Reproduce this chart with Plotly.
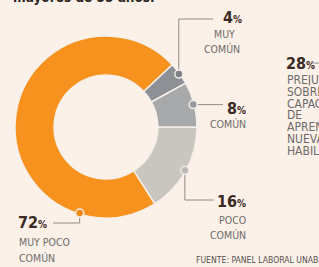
import math
import plotly.graph_objects as go

# Data (clockwise from 3 o'clock)
categories = ["POCO COMÚN", "MUY POCO COMÚN", "MUY COMÚN", "COMÚN"]
values = [16, 72, 4, 8]
colors = ["#C9C5BF", "#F7921E", "#8D9094", "#A8A9AB"]
marker_colors = ["#BDB9B4", "#F08A17", "#7E8287", "#979A9E"]
pct_labels = ["16", "72", "4", "8"]
side_value = "28"
side_lines = ["PREJU", "SOBRE", "CAPAC", "DE", "APREN", "NUEVA", "HABIL"]
title_text = "mayores de 55 años."
source_text = "FUENTE: PANEL LABORAL UNAB"

W, H = 319, 267
BG = "#FBF1E9"
FONT = "DejaVu Sans Condensed, DejaVu Sans, sans-serif"
DARK = "#3B2A24"
GREY_TXT = "#6E6A68"
LINE = "#8E8C8B"

cx, cy, R = 106, 127, 91
hole = 0.57

def px(x):
    return x / W

def py(y):
    return 1 - y / H

fig = go.Figure(go.Pie(
    values=values, labels=categories, sort=False, direction="clockwise",
    rotation=90, hole=hole, textinfo="none", hoverinfo="label+percent",
    marker=dict(colors=colors, line=dict(color="#F6F0EA", width=1.5)),
    domain=dict(x=[px(cx - R), px(cx + R)], y=[py(cy + R), py(cy - R)]),
    showlegend=False,
))

# marker angles (degrees, CCW from 3 o'clock) derived from data
total = sum(values)
cum = 0
mids = []
for v in values:
    a0 = -cum / total * 360
    a1 = -(cum + v) / total * 360
    mids.append((a0 + a1) / 2)
    cum += v
mids[1] = -107  # marker for the big slice sits near the bottom
mids = [((m + 180) % 360) - 180 for m in mids]

def pt(angle, r=R - 1):
    a = math.radians(angle)
    return cx + r * math.cos(a), cy - r * math.sin(a)

shapes = []
annotations = []

def seg(x0, y0, x1, y1):
    shapes.append(dict(type="line", xref="paper", yref="paper",
                       x0=px(x0), y0=py(y0), x1=px(x1), y1=py(y1),
                       line=dict(color=LINE, width=1)))

m16, m72, m4, m8 = [pt(m) for m in mids]
# leader lines
seg(m4[0], m4[1], m4[0], 19); seg(m4[0], 19, 213, 19)
seg(m8[0], m8[1], 223, m8[1])
seg(m16[0], m16[1], m16[0], 200); seg(m16[0], 200, 214, 200)
seg(m72[0], m72[1], m72[0], 223); seg(m72[0], 223, 53, 223)
seg(312, 63, 319, 63)

# markers
for (mx, my), col in zip([m16, m72, m4, m8], marker_colors):
    r = 4
    shapes.append(dict(type="circle", xref="paper", yref="paper",
                       x0=px(mx - r), x1=px(mx + r), y0=py(my + r), y1=py(my - r),
                       fillcolor=col, line=dict(color="#F3ECE6", width=1.5)))

def pct(v):
    return f"<b>{v}</b><span style='font-size:10px'><b>%</b></span>"

def ann(x, y, text, xanchor, size=10.5, color=GREY_TXT, yanchor="middle", height=None):
    d = dict(x=px(x), y=py(y), xref="paper", yref="paper", text=text,
             showarrow=False, xanchor=xanchor, yanchor=yanchor,
             align=xanchor, borderpad=0,
             font=dict(family=FONT, size=size, color=color))
    if height:
        d["height"] = height
    annotations.append(d)

# 4%
ann(243, 18, pct(pct_labels[2]), "right", size=16, color=DARK, height=15)
ann(236, 34, "MUY", "right", height=12)
ann(241, 48, "COMÚN", "right", height=13)
# 8%
ann(247, 108, pct(pct_labels[3]), "right", size=16, color=DARK, height=15)
ann(247, 123, "COMÚN", "right", height=13)
# 16%
ann(247, 201, pct(pct_labels[0]), "right", size=16, color=DARK, height=15)
ann(247, 220, "POCO", "right", height=12)
ann(247, 234, "COMÚN", "right", height=13)
# 72%
ann(17, 222, pct(pct_labels[1]), "left", size=16, color=DARK, height=15)
ann(18, 242, "MUY POCO", "left", height=12)
ann(18, 257, "COMÚN", "left", height=13)
# 28%
ann(285, 63, pct(side_value), "left", size=16, color=DARK, height=15)
for i, s in enumerate(side_lines):
    ann(286, 80 + i * 11.8, s, "left", size=12, height=11.5)
# title (cut at top)
ann(12, 6, f"<b>{title_text}</b>", "left", size=13.5, color="#2E2522", yanchor="bottom")
# source
ann(195, 260, source_text, "left", size=8.6, color="#55504E")

fig.update_layout(width=W, height=H, margin=dict(l=0, r=0, t=0, b=0),
                  paper_bgcolor=BG, plot_bgcolor=BG,
                  shapes=shapes, annotations=annotations)
fig.write_html("out.html", config={"displayModeBar": False},
               post_script="document.body.style.margin='0';document.body.style.overflow='hidden';")
